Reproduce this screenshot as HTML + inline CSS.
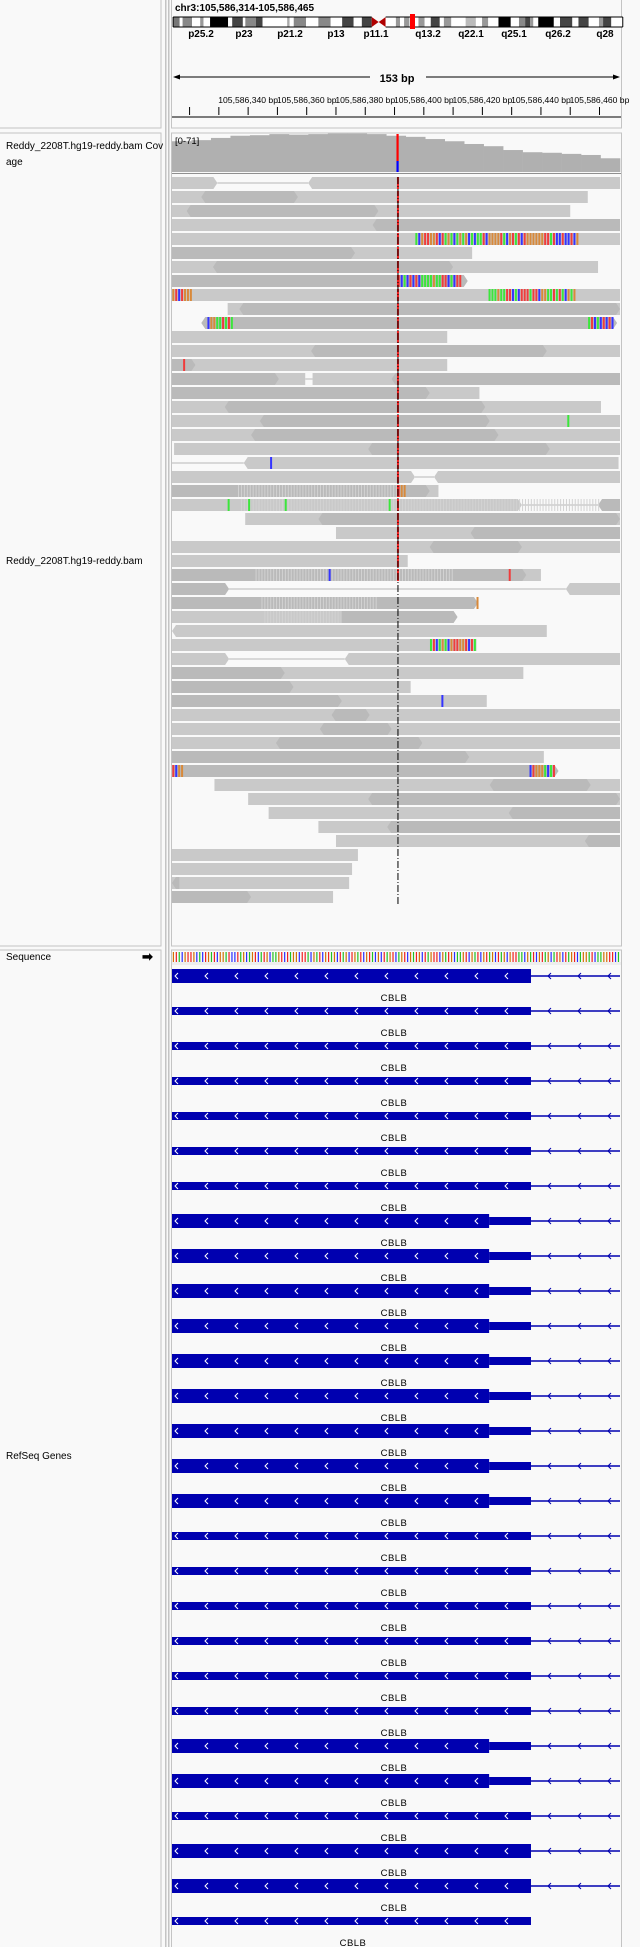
<!DOCTYPE html>
<html><head><meta charset="utf-8">
<style>
html,body{margin:0;padding:0;background:#f9f9f9;}
#wrap{position:relative;width:640px;height:1947px;overflow:hidden;background:#f9f9f9;font-family:"Liberation Sans",sans-serif;}
svg text{font-family:"Liberation Sans",sans-serif;}
</style></head>
<body>
<div id="wrap">
<svg id="svg" width="640" height="1947" viewBox="0 0 640 1947" xmlns="http://www.w3.org/2000/svg">
  <!-- name panels -->
  <rect x="-1" y="-1" width="162" height="129" fill="#f9f9f9" stroke="#c4c4c4"/>
  <rect x="-1" y="133" width="162" height="813" fill="#f9f9f9" stroke="#c4c4c4"/>
  <rect x="-1" y="950" width="162" height="1000" fill="#f9f9f9" stroke="#c4c4c4"/>
  <rect x="165" y="0" width="1.5" height="1947" fill="#c4c4c4"/>
  <rect x="168" y="0" width="1.5" height="1947" fill="#c4c4c4"/>
  <!-- data panels -->
  <rect x="171.5" y="-1" width="450" height="129" fill="#f9f9f9" stroke="#c4c4c4"/>
  <rect x="171.5" y="133" width="450" height="813" fill="#f9f9f9" stroke="#c4c4c4"/>
  <rect x="171.5" y="950" width="450" height="1000" fill="#f9f9f9" stroke="#c4c4c4"/>

  <text x="175" y="11" font-size="10" font-weight="bold" fill="#000">chr3:105,586,314-105,586,465</text>
  <g id="ideogram"></g>
  <g id="bandlabels"></g>
  <g id="ruler"></g>

  <text x="6" y="149" font-size="10" fill="#000">Reddy_2208T.hg19-reddy.bam Cov</text>
  <text x="6" y="165" font-size="10" fill="#000">age</text>
  <text x="6" y="564" font-size="10" fill="#000">Reddy_2208T.hg19-reddy.bam</text>
  <text x="6" y="960" font-size="10" fill="#000">Sequence</text>
  <text x="142" y="961" font-size="13" font-weight="bold" fill="#000">➡</text>
  <text x="6" y="1459" font-size="10" fill="#000">RefSeq Genes</text>

  <g id="coverage"></g>
  <g id="reads"></g>
  <g id="sequence"></g>
  <g id="genes"></g>
</svg>
</div>
<script>
// ---------- data ----------
const startBp = 105586314;
const nBp = 153;
const cytoStops = [422,438,445,468,488,496,512,556,566,592,598,624,640,700,706,716,746,776,806,834,862,882,906,940,965,975,985,998,1020,1035,1050,1072,1082,1100,1135,1160,1175,1190,1215,1245,1265,1280,1292,1300,1312,1350,1365,1395,1410,1435,1460,1470,1490,1518];
const cytoShades = ['#777','#fff','#888','#fff','#999','#fff','#000','#fff','#444','#fff','#888','#444','#fff','#aaa','#fff','#888','#fff','#888','#fff','#444','#fff','#444','cen','#fff','#999','#fff','#999','#fff','#999','#fff','#444','#fff','#999','#fff','#bbb','#fff','#999','#fff','#000','#fff','#888','#444','#999','#fff','#000','#fff','#444','#fff','#444','#fff','#999','#444','#fff'];
const bandNames = ['p25.2','p23','p21.2','p13','p11.1','q13.2','q22.1','q25.1','q26.2','q28'];
const bandCenters = [201,244,290,336,376,428,471,514,558,605];
const tickBp = [6,16,26,36,46,56,66,76,86,96,106,116,126,136,146];
const tickLabels = ['105,586,340 bp','105,586,360 bp','105,586,380 bp','105,586,400 bp','105,586,420 bp','105,586,440 bp','105,586,460 bp'];
const labelTickIdx = [2,4,6,8,10,12,14];
const coverageMax = 71;
const coverageVals = [56,58,62,66,67,69,68,69,70,70,69,66,64,60,56,51,47,40,36,35,33,31,25];
const mismatchBp = 77;
const sequenceStr = 'GTACGTTGCACTGATCGGATCCTAGCAGTCATGCAAGTCTAGGCTTACGATCGTAGCTAGCTGATCGTACGCTAGTCAGTCGATGCTAGTTCGATGCAAGTCGATCGTAGCTAGCGTTAACGATCGTAGCATGCTAGTCAGGATCAAGGTTCATGCA';
// reads: segments [start,end,dark,leftTip,rightTip] in bp offsets
const readSegs = [
 [[0,15.5,0,0,1],[46.5,153,0,1,0]],
 [[0,142,0,0,0],[10,43,1,1,1]],
 [[0,136,0,0,0],[5,70.5,1,1,1]],
 [[0,153,0,0,0],[68.5,153,1,1,0]],
 [[0,153,0,0,0]],
 [[0,102.5,0,0,0],[0,62.5,1,0,1]],
 [[0,145.5,0,0,0],[14,96,1,1,1]],
 [[0,101,1,0,1]],
 [[0,153,0,0,0]],
 [[19,153,0,0,0],[23,153,1,1,1]],
 [[10,152,1,1,1]],
 [[0,94,0,0,0]],
 [[0,153,0,0,0],[47.5,128,1,1,1]],
 [[0,94,0,0,0],[0,8,1,0,1]],
 [[0,45.5,0,0,0],[0,36.5,1,0,1],[48,153,0,0,0],[75,153,1,1,0]],
 [[0,105,0,0,0],[0,88,1,0,1]],
 [[0,146.5,0,0,0],[18,107,1,1,1]],
 [[0,153,0,0,0],[30,108.5,1,1,1]],
 [[0,153,0,0,0],[27,111.5,1,1,1]],
 [[0.7,153,0,0,0],[67,129,1,1,1]],
 [[24.5,152.5,0,1,0]],
 [[0,83,0,0,1],[89.5,153,0,1,0]],
 [[0,91,0,0,0],[0,88,1,0,1]],
 [[0,119.5,0,0,1],[145.5,153,1,1,0]],
 [[25,153,0,0,0],[50,153,1,1,1]],
 [[56,153,0,0,0],[102,153,1,1,0]],
 [[0,153,0,0,0],[88,119.5,1,1,1]],
 [[0,80.5,0,0,0]],
 [[0,126,0,0,0],[0,121,1,0,1]],
 [[0,19.5,1,0,1],[134.5,153,0,1,0]],
 [[0,104.5,1,0,1]],
 [[0,97.5,0,0,1],[57.5,97.5,1,0,1]],
 [[0,128,0,1,0]],
 [[0,104,0,0,0]],
 [[0,19.5,0,0,1],[59,153,0,1,0]],
 [[0,120,0,0,0],[0,38.5,1,0,1]],
 [[0,81.5,0,0,0],[0,41.5,1,0,1]],
 [[0,107.5,0,0,0],[0,58,1,0,1]],
 [[0,153,0,0,0],[54.5,67.5,1,1,1]],
 [[0,153,0,0,0],[50.5,75,1,1,1]],
 [[0,153,0,0,0],[35.5,85.5,1,1,1]],
 [[0,127,0,0,0],[0,101.5,1,0,1]],
 [[0,132,1,0,1]],
 [[14.5,153,0,0,0],[108.5,143,1,1,1]],
 [[26,153,0,0,0],[67,153,1,1,1]],
 [[33,153,0,0,0],[115,153,1,1,0]],
 [[50,153,0,0,0],[73.5,153,1,1,0]],
 [[56,153,0,0,0],[141,153,1,1,0]],
 [[0,63.5,0,0,0]],
 [[0,61.5,0,0,0]],
 [[0,60.5,0,0,0],[0,2.5,1,1,0]],
 [[0,55,0,0,0],[0,27,1,0,1]]
];
// split-read connecting lines [row,start,end]
const readLines = [[0,15.5,46.5],[14,45.5,48],[20,0,24.5],[21,83,89.5],[23,119.5,145.5],[29,19.5,134.5],[34,19.5,59]];
// colored mismatch runs [row,start,end]
const colorRuns = [[4,83,139],[7,77,99],[8,0,7],[8,108.5,138],[10,12,21],[10,142,151],[22,77,80],[33,88,103.5],[42,0,4],[42,122,131]];
// soft-clipped striped runs [row,start,end]
const stripeRuns = [[4,0,10],[22,77,88],[23,145.5,153],[28,96,113],[29,0,19.5],[30,69.5,104],[31,57.5,97.5]];
// single mismatches [row,pos,base]
const singleMM = [[13,3.8,'T'],[17,135,'A'],[20,33.5,'C'],[23,19,'A'],[23,26,'A'],[23,38.5,'A'],[23,74,'A'],[28,53.5,'C'],[28,115,'T'],[30,104,'G'],[37,92,'C']];
// genes
const geneTypes = ['full','thin','thin','thin','thin','thin','thin','utr','utr','utr','utr','utr','utr','utr','utr','utr','thin','thin','thin','thin','thin','thin','utr','utr','thin','full','full','end'];
const geneName = 'CBLB';
const cdsEndBp = 108.3;
const txEndBp = 122.6;

// ---------- helpers ----------
const NS='http://www.w3.org/2000/svg';
const pxPerBp = 448/nBp;
function X(bp){return 172 + bp*pxPerBp;}
function el(tag,attrs,parent){const e=document.createElementNS(NS,tag);for(const k in attrs)e.setAttribute(k,attrs[k]);parent.appendChild(e);return e;}
const baseColor={A:'#22c022',C:'#2b2bff',G:'#d17105',T:'#f02020'};
const mmColor={A:'#3ce63c',C:'#3434ff',G:'#d8893a',T:'#f03c3c'};

// ---------- ideogram ----------
const ideo=document.getElementById('ideogram');
const cs=v=>v/2.4375;
for(let i=0;i<cytoShades.length;i++){
  const x1=cs(cytoStops[i]),x2=cs(cytoStops[i+1]);
  if(cytoShades[i]==='cen'){
    const m=(x1+x2)/2;
    const p=el('polygon',{points:`${x1},17 ${m},22 ${x1},27`,fill:'#b00000'},ideo);
    
    
    const q=el('polygon',{points:`${x2},17 ${m},22 ${x2},27`,fill:'#b00000'},ideo);
    
    
  } else {
    const r=el('rect',{x:x1,y:17,width:x2-x1,height:10,fill:cytoShades[i]},ideo);
    
    
  }
}
el('path',{d:`M${cs(422)},17 H${cs(906)} M${cs(422)},27 H${cs(906)} M${cs(940)},17 H${cs(1518)} M${cs(940)},27 H${cs(1518)} M${cs(422)},17 V27 M${cs(1518)},17 V27`,stroke:'#000','stroke-width':1,fill:'none'},ideo);
const loc=el('rect',{x:410,y:14,width:5,height:15,fill:'#ff0000'},ideo);


const bl=document.getElementById('bandlabels');
bandNames.forEach((n,i)=>{
  const t=el('text',{x:bandCenters[i],y:37,'font-size':10,'font-weight':'bold','text-anchor':'middle',fill:'#000'},bl);
  t.textContent=n;
  
  
});

// ---------- ruler ----------
const ru=document.getElementById('ruler');
el('line',{x1:176,y1:77,x2:617,y2:77,stroke:'#000','stroke-width':1},ru);
el('polygon',{points:'173,77 180,74.5 180,79.5',fill:'#000'},ru);
el('polygon',{points:'620,77 613,74.5 613,79.5',fill:'#000'},ru);
el('rect',{x:370,y:70,width:56,height:14,fill:'#f9f9f9'},ru);
const bpT=el('text',{x:397,y:82,'font-size':11,'font-weight':'bold','text-anchor':'middle',fill:'#000'},ru);
bpT.textContent='153 bp';


el('line',{x1:172,y1:117,x2:621,y2:117,stroke:'#000','stroke-width':1},ru);
tickBp.forEach((b,i)=>{
  const tk=el('line',{x1:X(b),y1:107,x2:X(b),y2:115,stroke:'#000','stroke-width':1},ru);
  
  
});
labelTickIdx.forEach((ti,i)=>{
  const t=el('text',{x:X(tickBp[ti]),y:103,'font-size':8.6,'text-anchor':'middle',fill:'#000'},ru);
  t.textContent=tickLabels[i];
  
  
});

// ---------- coverage ----------
const cov=document.getElementById('coverage');
const covBase=172, covH=39;
const binW=448/coverageVals.length;
coverageVals.forEach((v,i)=>{
  const h=v/coverageMax*covH;
  const r=el('rect',{x:172+i*binW,y:covBase-h,width:binW+0.3,height:h,fill:'#b0b0b0'},cov);
  
  
});
const cr=el('rect',{x:X(mismatchBp)-1,y:134,width:2.2,height:27,fill:'#ff0000'},cov);


const cb=el('rect',{x:X(mismatchBp)-1,y:161,width:2.2,height:11,fill:'#0000ff'},cov);


const rng=el('text',{x:175,y:144,'font-size':9.5,fill:'#000'},cov);
rng.textContent='[0-71]';


el('line',{x1:172,y1:173.5,x2:621,y2:173.5,stroke:'#909090','stroke-width':1},cov);

// ---------- reads ----------
const rd=document.getElementById('reads');
const rowY=k=>177+14*k, rowH=12;
function readShape(s,y){
  const x1=X(s[0]),x2=X(s[1]),tip=4,m=y+rowH/2;
  let pts=[];
  if(s[3]) pts.push(`${x1},${m}`,`${x1+tip},${y}`); else pts.push(`${x1},${y}`);
  if(s[4]) pts.push(`${x2-tip},${y}`,`${x2},${m}`,`${x2-tip},${y+rowH}`); else pts.push(`${x2},${y}`,`${x2},${y+rowH}`);
  if(s[3]) pts.push(`${x1+tip},${y+rowH}`); else pts.push(`${x1},${y+rowH}`);
  return pts.join(' ');
}
readLines.forEach(l=>{
  const ln=el('line',{x1:X(l[1]),y1:rowY(l[0])+6,x2:X(l[2]),y2:rowY(l[0])+6,stroke:'#c4c4c4','stroke-width':1.2},rd);
  
  
});
readSegs.forEach((segs,k)=>{
  segs.forEach(s=>{
    const p=el('polygon',{points:readShape(s,rowY(k)),fill:s[2]?'#bababa':'#c9c9c9'},rd);
    
    
  });
});
stripeRuns.forEach(r=>{
  for(let b=Math.ceil(r[0]);b<r[1];b++){
    el('rect',{x:X(b)+1.6,y:rowY(r[0]===0&&false?0:r[0])+0,width:1,height:rowH,fill:'#d2d2d2'},rd).setAttribute('y',rowY(r[0]));
  }
});
stripeRuns.forEach(r=>{}); // (rows encoded in r[0] index above)
colorRuns.forEach(r=>{
  for(let b=Math.floor(r[1]);b<r[2];b++){
    const base=sequenceStr[(b*7+r[0]*3)%sequenceStr.length];
    const c=el('rect',{x:X(b)+0.3,y:rowY(r[0]),width:2,height:rowH,fill:mmColor[base]},rd);
    
    
  }
});
singleMM.forEach(m=>{
  const c=el('rect',{x:X(m[1]),y:rowY(m[0]),width:2,height:rowH,fill:mmColor[m[2]]},rd);
  
  
});
readSegs.forEach((segs,k)=>{
  if(k>28) return;
  if(segs.some(s=>s[0]<=mismatchBp&&s[1]>mismatchBp)){
    const c=el('rect',{x:X(mismatchBp)-0.5,y:rowY(k),width:2,height:rowH,fill:'#f02020'},rd);
    
    
  }
});
const cl=el('line',{x1:X(mismatchBp)+0.5,y1:177,x2:X(mismatchBp)+0.5,y2:904,stroke:'#000','stroke-width':1,'stroke-dasharray':'7,2,1,2'},rd);



// ---------- sequence ----------
const sq=document.getElementById('sequence');
for(let b=0;b<nBp;b++){
  const base=sequenceStr[b%sequenceStr.length];
  const r=el('rect',{x:X(b)+0.8,y:952,width:1.2,height:10,fill:baseColor[base]},sq);
  
  
}
el('rect',{x:172,y:962,width:449,height:3,fill:'#eeeeee'},sq);

// ---------- genes ----------
const gn=document.getElementById('genes');
const blue='#0000b0';
const cdsEnd=X(cdsEndBp), txEnd=X(txEndBp);
function chev(x,cy,color,g){el('polyline',{points:`${x+3},${cy-3} ${x},${cy} ${x+3},${cy+3}`,stroke:color,'stroke-width':1,fill:'none'},g);}
geneTypes.forEach((t,i)=>{
  const cy=976+35*i;
  const g=el('g',{},gn);
  
  
  if(t!=='end'){
    el('line',{x1:txEnd,y1:cy,x2:620,y2:cy,stroke:blue,'stroke-width':1.5},g);
    [548,578,608].forEach(x=>chev(x,cy,blue,g));
  }
  let thickTo=txEnd;
  if(t==='utr'){
    el('rect',{x:172,y:cy-7,width:cdsEnd-172,height:14,fill:blue},g);
    el('rect',{x:cdsEnd,y:cy-4,width:txEnd-cdsEnd,height:8,fill:blue},g);
    thickTo=cdsEnd;
  } else if(t==='full'){
    el('rect',{x:172,y:cy-7,width:txEnd-172,height:14,fill:blue},g);
  } else {
    el('rect',{x:172,y:cy-4,width:txEnd-172,height:8,fill:blue},g);
  }
  for(let x=175;x<thickTo-6;x+=30) chev(x,cy,'#ffffff',g);
  const lab=el('text',{x:t==='end'?353:394,y:cy+25,'font-size':9.5,'text-anchor':'middle',fill:'#000','letter-spacing':'0.5'},gn);
  lab.textContent=geneName;
  
  
});
</script>
</body></html>
